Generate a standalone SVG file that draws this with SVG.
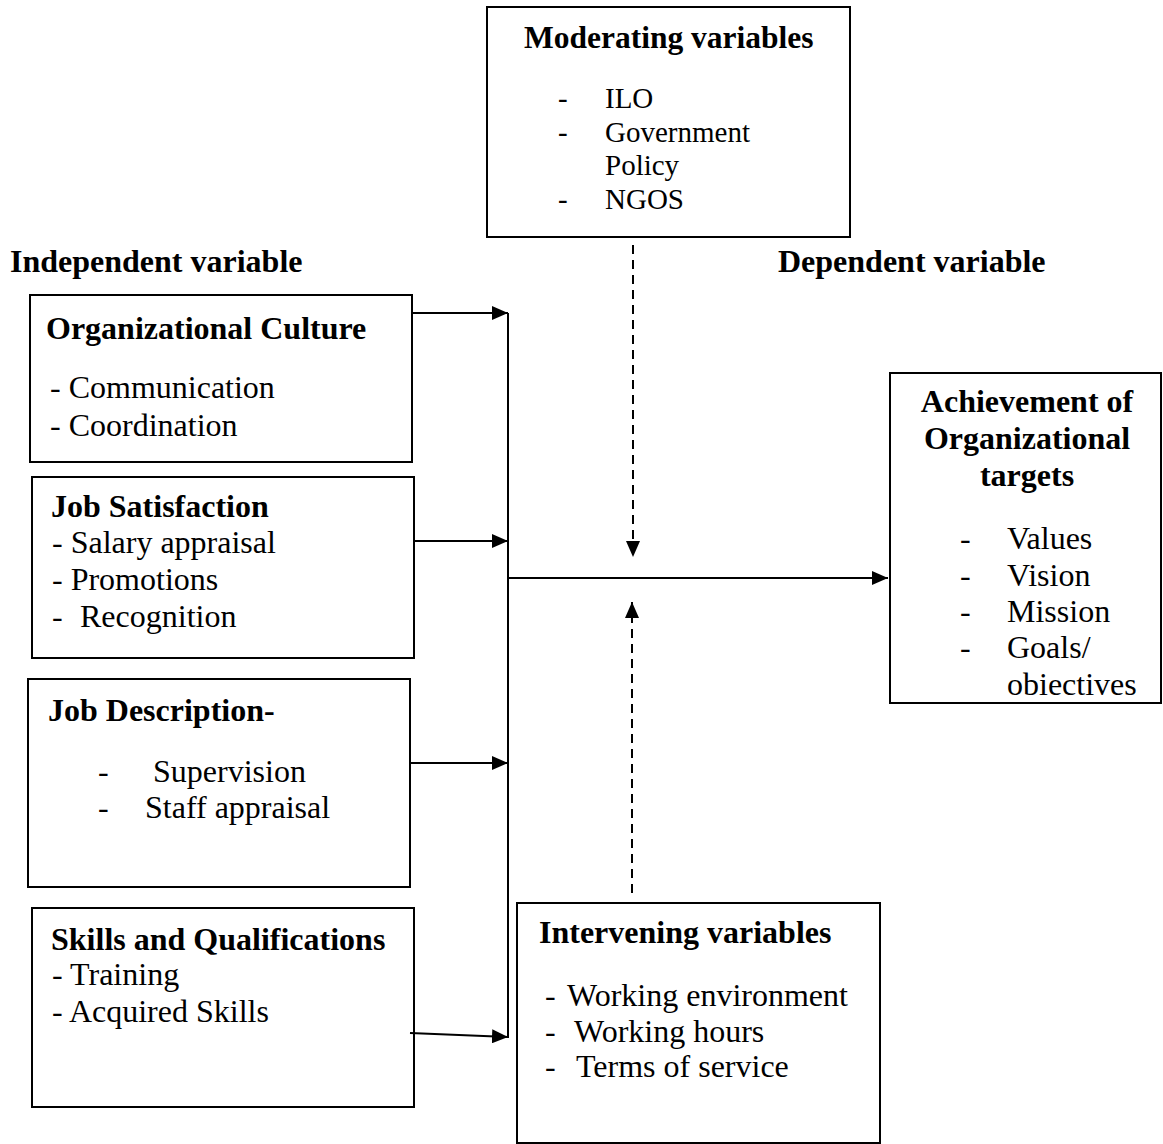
<svg xmlns="http://www.w3.org/2000/svg" width="1163" height="1144" viewBox="0 0 1163 1144">
<style>
.box{fill:#fff;stroke:#000;stroke-width:2}
.t{font-family:"Liberation Serif","Times New Roman",serif;font-size:32px;fill:#000}
.s{font-size:29px}
.b{font-weight:bold}
.m{font-size:31.5px}
.c{stroke:#000;stroke-width:2;fill:none}
.d{stroke-dasharray:9,6}
</style>
<defs>
<marker id="ah" markerUnits="userSpaceOnUse" markerWidth="18" markerHeight="14" refX="16" refY="7" orient="auto">
<path d="M0,0 L16,7 L0,14 Z" fill="#000"/>
</marker>
</defs>
<rect width="1163" height="1144" fill="#fff"/>
<g id="headers">
<text class="t b" x="10" y="272">Independent variable</text>
<text class="t b" x="778" y="272">Dependent variable</text>
</g>
<g id="moderating">
<rect class="box" x="487" y="7" width="363" height="230"/>
<text class="t b m" x="524" y="48">Moderating variables</text>
<text class="t s" x="558" y="108">-</text><text class="t s" x="605" y="108">ILO</text>
<text class="t s" x="558" y="142">-</text><text class="t s" x="605" y="142">Government</text>
<text class="t s" x="605" y="175">Policy</text>
<text class="t s" x="558" y="209">-</text><text class="t s" x="605" y="209">NGOS</text>
</g>
<g id="org-culture">
<rect class="box" x="30" y="295" width="382" height="167"/>
<text class="t b" x="46" y="339">Organizational Culture</text>
<text class="t" x="50" y="398">- Communication</text>
<text class="t" x="50" y="436">- Coordination</text>
</g>
<g id="job-satisfaction">
<rect class="box" x="32" y="477" width="382" height="181"/>
<text class="t b" x="51" y="517">Job Satisfaction</text>
<text class="t" x="52" y="553">- Salary appraisal</text>
<text class="t" x="52" y="590">- Promotions</text>
<text class="t" x="52" y="627">-</text><text class="t" x="80" y="627">Recognition</text>
</g>
<g id="job-description">
<rect class="box" x="28" y="679" width="382" height="208"/>
<text class="t b" x="48" y="721">Job Description-</text>
<text class="t" x="98" y="782">-</text><text class="t" x="153" y="782">Supervision</text>
<text class="t" x="98" y="818">-</text><text class="t" x="145" y="818">Staff appraisal</text>
</g>
<g id="skills">
<rect class="box" x="32" y="908" width="382" height="199"/>
<text class="t b" x="51" y="950">Skills and Qualifications</text>
<text class="t" x="52" y="985">- Training</text>
<text class="t" x="52" y="1022">- Acquired Skills</text>
</g>
<g id="intervening">
<rect class="box" x="517" y="903" width="363" height="240"/>
<text class="t b" x="539" y="943">Intervening variables</text>
<text class="t" x="545" y="1006">-</text><text class="t" x="567" y="1006">Working environment</text>
<text class="t" x="545" y="1042">-</text><text class="t" x="574" y="1042">Working hours</text>
<text class="t" x="545" y="1077">-</text><text class="t" x="576" y="1077">Terms of service</text>
</g>
<g id="achievement">
<rect class="box" x="890" y="373" width="271" height="330"/>
<text class="t b" x="1027" y="412" text-anchor="middle">Achievement of</text>
<text class="t b" x="1027" y="449" text-anchor="middle">Organizational</text>
<text class="t b" x="1027" y="486" text-anchor="middle">targets</text>
<text class="t" x="960" y="549">-</text><text class="t" x="1007" y="549">Values</text>
<text class="t" x="960" y="586">-</text><text class="t" x="1007" y="586">Vision</text>
<text class="t" x="960" y="622">-</text><text class="t" x="1007" y="622">Mission</text>
<text class="t" x="960" y="658">-</text><text class="t" x="1007" y="658">Goals/</text>
<text class="t" x="1007" y="695">obiectives</text>
</g>
<g id="connectors">
<line class="c" x1="412" y1="313" x2="508" y2="313" marker-end="url(#ah)"/>
<line class="c" x1="414" y1="541" x2="508" y2="541" marker-end="url(#ah)"/>
<line class="c" x1="410" y1="763" x2="508" y2="763" marker-end="url(#ah)"/>
<line class="c" x1="410" y1="1033" x2="508" y2="1037" marker-end="url(#ah)"/>
<line class="c" x1="508" y1="313" x2="508" y2="1038"/>
<line class="c" x1="507" y1="578" x2="888" y2="578" marker-end="url(#ah)"/>
<line class="c d" x1="633" y1="245" x2="633" y2="557" marker-end="url(#ah)"/>
<line class="c d" x1="632" y1="893" x2="632" y2="602" marker-end="url(#ah)"/>
</g>
</svg>
